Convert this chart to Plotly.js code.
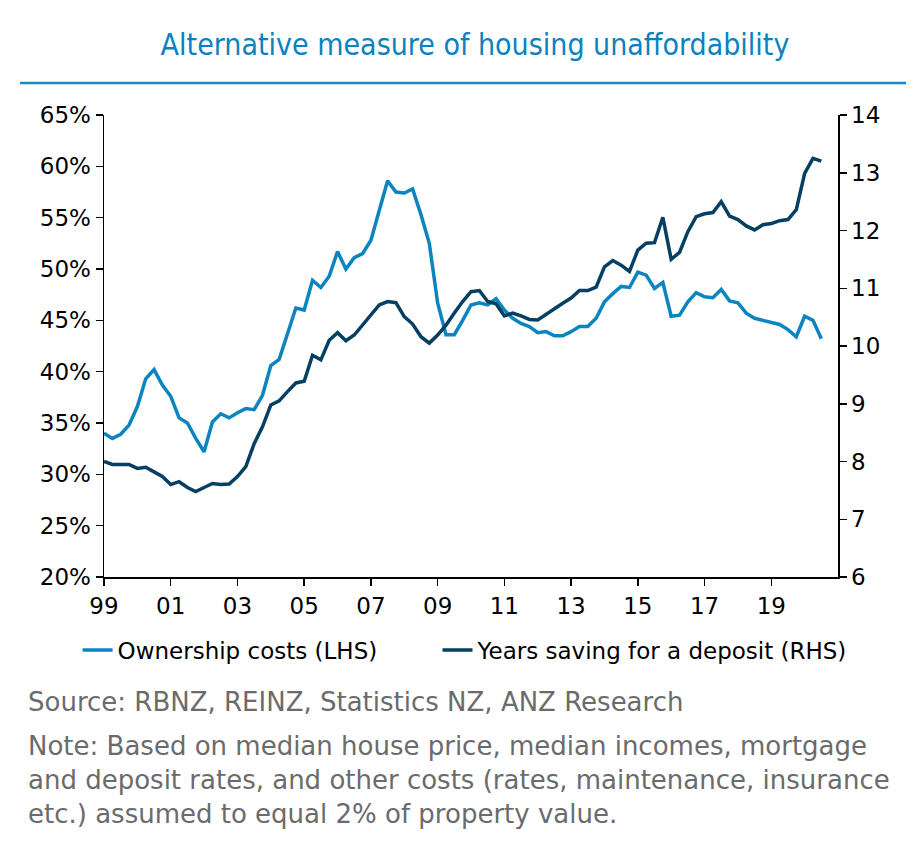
<!DOCTYPE html>
<html>
<head>
<meta charset="utf-8">
<script src="https://cdn.plot.ly/plotly-3.0.1.min.js"></script>
<style>html,body{margin:0;padding:0;background:#fff;}#chart{width:918px;height:854px;}</style>
</head>
<body>
<div id="chart"></div>
<script>
// Quarterly data, 1999 Q1 onward
const startYear = 1999;
const ownershipCosts = [
  34.0, 33.5, 33.9, 34.8, 36.6, 39.3, 40.2, 38.7, 37.6, 35.5,
  35.0, 33.5, 32.2, 35.1, 35.9, 35.5, 36.0, 36.4, 36.3, 37.7,
  40.6, 41.2, 43.7, 46.2, 46.0, 48.9, 48.2, 49.3, 51.7, 50.0,
  51.1, 51.5, 52.8, 55.7, 58.6, 57.5, 57.4, 57.8, 55.3, 52.5,
  46.7, 43.6, 43.6, 45.0, 46.5, 46.7, 46.5, 47.1, 46.0, 45.2,
  44.7, 44.4, 43.8, 43.9, 43.5, 43.5, 43.9, 44.4, 44.4, 45.2,
  46.8, 47.6, 48.3, 48.2, 49.7, 49.4, 48.1, 48.7, 45.4, 45.5,
  46.8, 47.7, 47.3, 47.2, 48.0, 46.9, 46.7, 45.7, 45.2, 45.0,
  44.8, 44.6, 44.1, 43.4, 45.4, 45.0, 43.2
];
const yearsSaving = [
  8.00, 7.95, 7.95, 7.95, 7.88, 7.90, 7.82, 7.74, 7.60, 7.65,
  7.55, 7.48, 7.55, 7.62, 7.60, 7.61, 7.74, 7.91, 8.31, 8.60,
  8.98, 9.05, 9.21, 9.36, 9.39, 9.84, 9.76, 10.10, 10.23, 10.09,
  10.19, 10.36, 10.52, 10.71, 10.77, 10.75, 10.51, 10.38, 10.16, 10.05,
  10.19, 10.36, 10.57, 10.77, 10.94, 10.96, 10.77, 10.73, 10.52, 10.57,
  10.52, 10.46, 10.45, 10.55, 10.65, 10.74, 10.83, 10.96, 10.96, 11.02,
  11.37, 11.48, 11.40, 11.29, 11.66, 11.78, 11.79, 12.23, 11.50, 11.62,
  11.98, 12.24, 12.29, 12.31, 12.50, 12.25, 12.19, 12.08, 12.01, 12.10,
  12.12, 12.17, 12.19, 12.36, 12.99, 13.25, 13.20
];
const xTickVals = [1999, 2001, 2003, 2005, 2007, 2009, 2011, 2013, 2015, 2017, 2019];
const xTickText = ["99", "01", "03", "05", "07", "09", "11", "13", "15", "17", "19"];
const yLeftTicks = [20, 25, 30, 35, 40, 45, 50, 55, 60, 65];
const yLeftText = ["20%", "25%", "30%", "35%", "40%", "45%", "50%", "55%", "60%", "65%"];
const yRightTicks = [6, 7, 8, 9, 10, 11, 12, 13, 14];

const quarters = ownershipCosts.map((_, i) => startYear + i / 4);

const LIGHT = '#0b84c0';
const DARK = '#053f62';
const FONT = 'DejaVu Sans, Verdana, sans-serif';

const traces = [
  {x: quarters, y: ownershipCosts, name: 'Ownership costs (LHS)', type: 'scatter', mode: 'lines',
   line: {color: LIGHT, width: 3.5}, yaxis: 'y', legend: 'legend'},
  {x: quarters, y: yearsSaving, name: 'Years saving for a deposit (RHS)', type: 'scatter', mode: 'lines',
   line: {color: DARK, width: 3.5}, yaxis: 'y2', legend: 'legend2'}
];

const axisCommon = {showgrid: false, zeroline: false, showline: true, linecolor: '#000', linewidth: 1.5,
  ticks: 'outside', ticklen: 7, tickwidth: 1.5, tickcolor: '#000',
  tickfont: {family: FONT, size: 23, color: '#000'}};

const legendCommon = {orientation: 'h', xanchor: 'left', y: -0.158, yanchor: 'middle',
  font: {family: FONT, size: 23, color: '#000'}, itemwidth: 30, bgcolor: 'rgba(0,0,0,0)'};

const layout = {
  width: 918, height: 854,
  margin: {l: 104, r: 80, t: 115, b: 277},
  paper_bgcolor: '#fff', plot_bgcolor: '#fff',
  font: {family: FONT, color: '#000'},
  title: {text: 'Alternative measure of housing unaffordability', x: 475 / 918, xref: 'container', xanchor: 'center',
    y: 1 - 44 / 854, yanchor: 'middle', yref: 'container',
    font: {family: 'DejaVu Sans Condensed, DejaVu Sans, sans-serif', size: 30, color: '#0a82c0'}},
  xaxis: Object.assign({}, axisCommon, {range: [1999, 2021], tickvals: xTickVals, ticktext: xTickText, ticklabelstandoff: 1}),
  yaxis: Object.assign({}, axisCommon, {range: [20, 65], tickvals: yLeftTicks, ticktext: yLeftText}),
  yaxis2: Object.assign({}, axisCommon, {range: [6, 14], tickvals: yRightTicks, overlaying: 'y', side: 'right'}),
  showlegend: true,
  legend: Object.assign({}, legendCommon, {x: -0.036}),
  legend2: Object.assign({}, legendCommon, {x: (437.5 - 104) / 734}),
  shapes: [
    {type: 'line', xref: 'paper', yref: 'paper', x0: (20 - 104) / 734, x1: (906 - 104) / 734,
     y0: (577 - 83) / 462, y1: (577 - 83) / 462, line: {color: '#1a8ac6', width: 2.5}}
  ],
  annotations: [
    {text: 'Source: RBNZ, REINZ, Statistics NZ, ANZ Research', y: (577 - 702) / 462},
    {text: 'Note: Based on median house price, median incomes, mortgage', y: (577 - 746) / 462},
    {text: 'and deposit rates, and other costs (rates, maintenance, insurance', y: (577 - 780) / 462},
    {text: 'etc.) assumed to equal 2% of property value.', y: (577 - 814) / 462}
  ].map(a => Object.assign({xref: 'paper', yref: 'paper', x: (26 - 104) / 734, xanchor: 'left', yanchor: 'middle',
    showarrow: false, align: 'left', font: {family: FONT, size: 26, color: '#6b6b6b'}}, a))
};

Plotly.newPlot('chart', traces, layout, {displayModeBar: false, staticPlot: true});
</script>
</body>
</html>
